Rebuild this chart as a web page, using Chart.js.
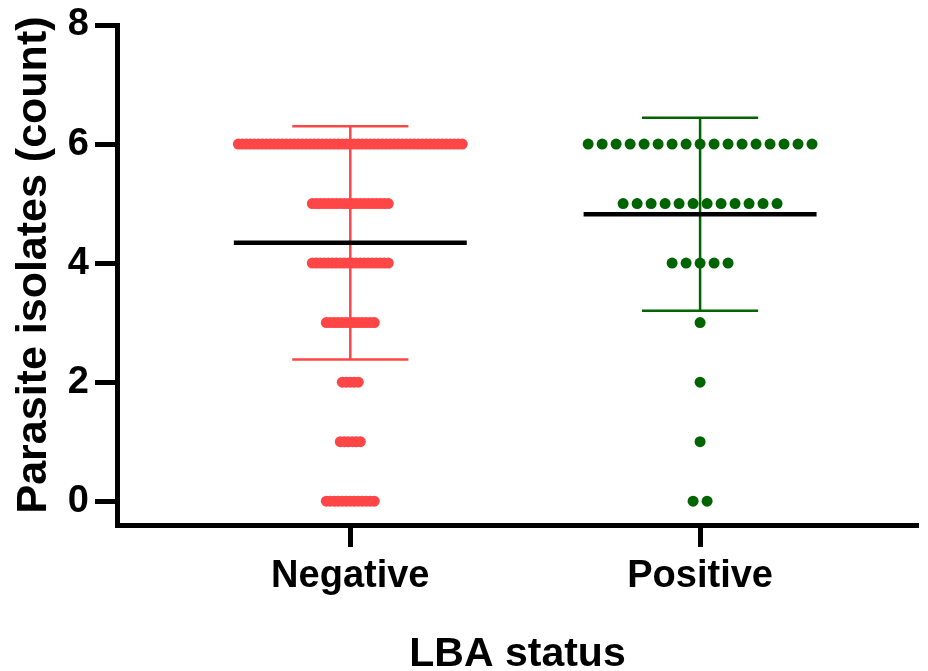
<!DOCTYPE html>
<html>
<head>
<meta charset="utf-8">
<title>Parasite isolates by LBA status</title>
<script src="https://cdn.jsdelivr.net/npm/chart.js@4.4.1/dist/chart.umd.min.js"></script>
<style>
  html, body { margin: 0; padding: 0; background: #fff; }
  canvas { display: block; }
</style>
</head>
<body>
<canvas id="isolatesChart" width="928" height="671"></canvas>
<script>
// Grupos e contagens de isolados (valor 0..6 -> número de animais)
const categories = ['Negative', 'Positive'];
const isolateValues = [0, 1, 2, 3, 4, 5, 6];
const negativeCounts = [13, 6, 5, 13, 20, 20, 57];
const positiveCounts = [2, 1, 1, 1, 5, 12, 17];

// Média e desvio padrão de cada grupo
const groupMeans = [4.34, 4.82];
const groupSds = [1.96, 1.62];

const yTicks = [0, 2, 4, 6, 8];
const yTitle = 'Parasite isolates (count)';

const red = '#FF4646';
const green = '#006400';
const fontFamily = '"Liberation Sans", Arial, sans-serif';

// Espalha os pontos de cada valor lado a lado em torno da posição do grupo
function spreadPoints(counts, center, step) {
    const pts = [];
    counts.forEach((n, k) => {
        for (let i = 0; i < n; i++) {
            pts.push({ x: center + (i - (n - 1) / 2) * step, y: isolateValues[k] });
        }
    });
    return pts;
}

// Barras de erro (média ± DP) e linha da média
const meanSdPlugin = {
    id: 'meanSd',
    afterDatasetsDraw(chart) {
        const { ctx, scales: { x, y } } = chart;
        const colors = [red, green];
        ctx.save();
        groupMeans.forEach((m, i) => {
            const c = i + 1;
            const cx = x.getPixelForValue(c);
            const top = y.getPixelForValue(m + groupSds[i]);
            const bottom = y.getPixelForValue(m - groupSds[i]);
            const capL = x.getPixelForValue(c - 0.166);
            const capR = x.getPixelForValue(c + 0.166);
            ctx.strokeStyle = colors[i];
            ctx.lineWidth = 2.5;
            ctx.beginPath();
            ctx.moveTo(cx, top); ctx.lineTo(cx, bottom);
            ctx.moveTo(capL, top); ctx.lineTo(capR, top);
            ctx.moveTo(capL, bottom); ctx.lineTo(capR, bottom);
            ctx.stroke();

            const my = y.getPixelForValue(m);
            ctx.strokeStyle = '#000';
            ctx.lineWidth = 4.5;
            ctx.beginPath();
            ctx.moveTo(x.getPixelForValue(c - 0.333), my);
            ctx.lineTo(x.getPixelForValue(c + 0.333), my);
            ctx.stroke();
        });
        ctx.restore();
    }
};

// Título do eixo Y, desenhado um pouco acima do centro da área
const yTitlePlugin = {
    id: 'yTitle',
    afterDraw(chart) {
        const { ctx } = chart;
        ctx.save();
        ctx.translate(46, 265);
        ctx.rotate(-Math.PI / 2);
        ctx.font = `bold 43px ${fontFamily}`;
        ctx.fillStyle = '#000';
        ctx.textAlign = 'center';
        ctx.textBaseline = 'alphabetic';
        ctx.fillText(yTitle, 0, 0);
        ctx.restore();
    }
};

new Chart(document.getElementById('isolatesChart').getContext('2d'), {
    type: 'scatter',
    data: {
        datasets: [
            {
                label: categories[0],
                data: spreadPoints(negativeCounts, 1, 0.01143),
                backgroundColor: red,
                borderWidth: 0,
                pointRadius: 5.5,
                pointHoverRadius: 5.5
            },
            {
                label: categories[1],
                data: spreadPoints(positiveCounts, 2, 0.04),
                backgroundColor: green,
                borderWidth: 0,
                pointRadius: 5.5,
                pointHoverRadius: 5.5
            }
        ]
    },
    options: {
        responsive: false,
        animation: false,
        layout: { padding: { left: 0, right: 10, top: 0, bottom: 0 } },
        plugins: { legend: { display: false }, tooltip: { enabled: false } },
        scales: {
            x: {
                type: 'linear',
                min: 0.333,
                max: 2.623,
                afterBuildTicks: (scale) => { scale.ticks = categories.map((_, i) => ({ value: i + 1 })); },
                afterFit: (scale) => {
                    scale.height = 146;
                    scale.paddingLeft = 0; scale.paddingRight = 0;
                },
                grid: { drawOnChartArea: false, tickLength: 22, tickWidth: 5, tickColor: '#000' },
                border: { display: true, width: 5, color: '#000' },
                ticks: {
                    color: '#000',
                    padding: 7,
                    font: { family: fontFamily, size: 38, weight: 'bold' },
                    callback: (v) => categories[v - 1]
                },
                title: {
                    display: true,
                    text: 'LBA status',
                    color: '#000',
                    padding: { top: 0, bottom: 0 },
                    font: { family: fontFamily, size: 41, weight: 'bold', lineHeight: 0.8 }
                }
            },
            y: {
                min: -0.4,
                max: 8,
                afterBuildTicks: (scale) => { scale.ticks = yTicks.map(v => ({ value: v })); },
                afterFit: (scale) => {
                    scale.width = 117;
                    scale.paddingTop = 25; scale.paddingBottom = 0;
                },
                grid: { drawOnChartArea: false, tickLength: 22, tickWidth: 5, tickColor: '#000' },
                border: { display: true, width: 5, color: '#000' },
                ticks: {
                    color: '#000',
                    padding: 6,
                    font: { family: fontFamily, size: 38, weight: 'bold' }
                }
            }
        }
    },
    plugins: [meanSdPlugin, yTitlePlugin]
});
</script>
</body>
</html>
